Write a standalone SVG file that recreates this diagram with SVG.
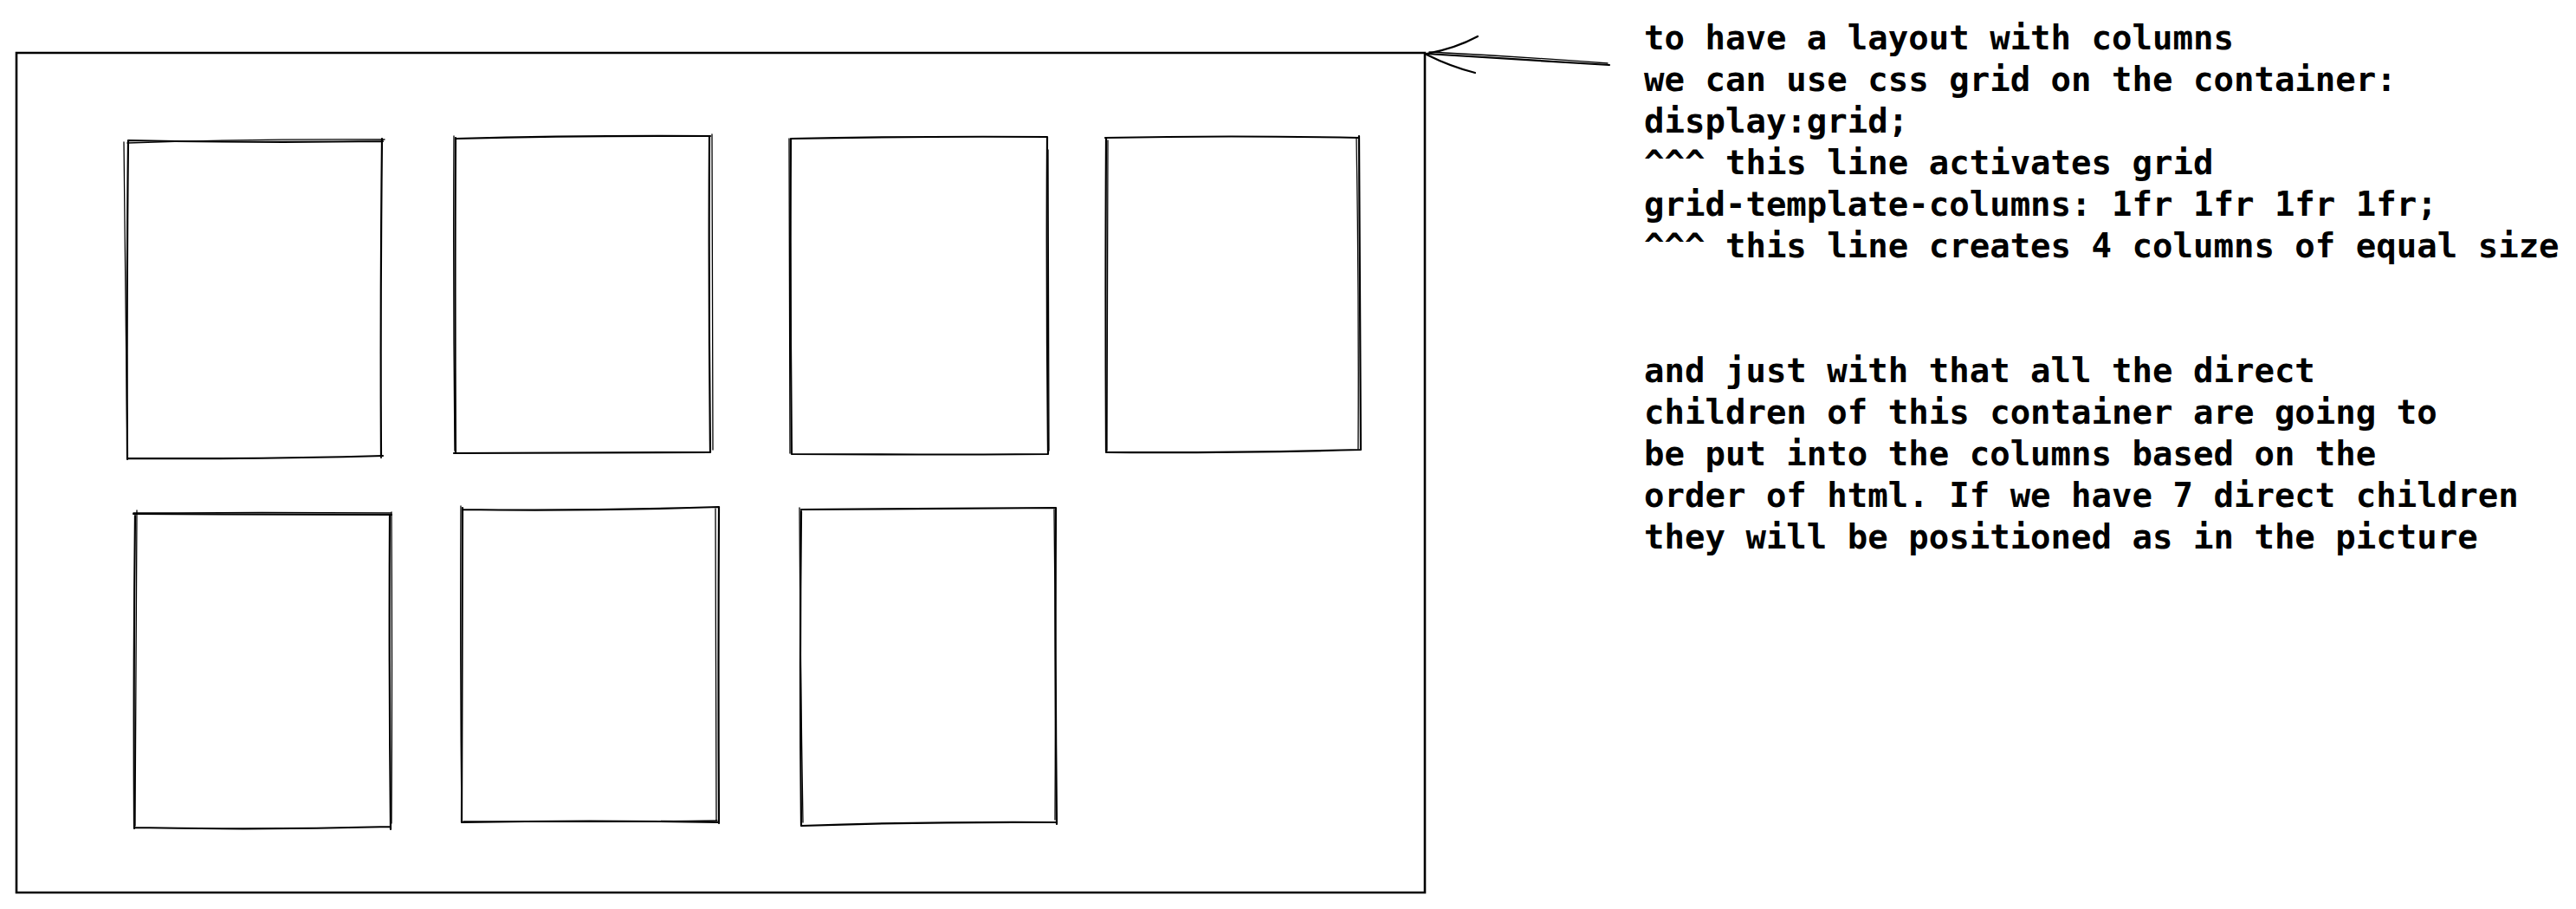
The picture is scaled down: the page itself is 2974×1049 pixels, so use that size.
<svg xmlns="http://www.w3.org/2000/svg" width="2974" height="1049" viewBox="0 0 2974 1049">
<style>
.s{fill:none;stroke:#000;stroke-width:2.2;stroke-linecap:round;stroke-linejoin:round}
.t{stroke-width:1.3}
.c{fill:none;stroke:#000;stroke-width:2.6;stroke-linecap:round}
.txt{font-family:"DejaVu Sans Mono","Liberation Mono",monospace;font-size:39px;font-weight:bold;fill:#000}
</style>
<rect width="2974" height="1049" fill="#fff"/>
<g id="container">
<path class="c" d="M19 61 L1645 61 L1645 1030 L19 1030 Z"/>
</g>
<g id="box1">
<path class="s" d="M148 162 Q300 165 442 163 M441 160 Q439 350 440 528 M442 526 Q300 530 147 529 M147 530 Q146 350 148 162"/>
<path class="s t" d="M143 164 Q145 350 147 527 M147 165 Q300 160 444 161"/>
</g>
<g id="box2">
<path class="s" d="M526 160 Q670 156 820 157 M819 157 Q818 340 820 522 M820 522 Q670 523 524 523 M526 523 Q525 340 526 159"/>
<path class="s t" d="M524 157 Q523 340 525 520 M822 155 Q823 340 823 519"/>
</g>
<g id="box3">
<path class="s" d="M913 160 Q1060 157 1209 158 M1209 158 Q1208 340 1210 524 M1210 524 Q1060 525 914 524 M914 524 Q912 340 913 160"/>
<path class="s t" d="M911 160 Q911 340 912 523 M1210 173 Q1211 340 1211 520"/>
</g>
<g id="box4">
<path class="s" d="M1276 159 Q1420 156 1569 159 M1569 157 Q1570 340 1571 519 M1571 519 Q1420 523 1277 522 M1277 521 Q1276 340 1277 160"/>
<path class="s t" d="M1279 162 Q1278 340 1278 520 M1566 160 Q1569 340 1568 518"/>
</g>
<g id="box5">
<path class="s" d="M154 593 Q300 594 452 594 M450 594 Q449 770 451 957 M451 954 Q300 958 156 955 M155 956 Q154 770 156 593"/>
<path class="s t" d="M158 589 Q157 770 156 953 M452 591 Q453 770 452 950 M154 592 Q300 591 452 592"/>
</g>
<g id="box6">
<path class="s" d="M534 588 Q680 590 830 585 M830 585 Q829 770 830 950 M829 949 Q680 946 533 949 M533 949 Q533 770 534 586"/>
<path class="s t" d="M532 584 Q531 770 533 946 M826 587 Q827 770 827 947 M535 948 Q680 949 828 947"/>
</g>
<g id="box7">
<path class="s" d="M925 588 Q1070 587 1219 586 M1219 586 Q1218 770 1220 951 M1219 949 Q1070 948 925 953 M925 953 Q923 770 925 590"/>
<path class="s t" d="M923 586 Q924 770 927 949 M1217 588 Q1219 770 1218 946"/>
</g>
<g id="connectors">
<path class="s" d="M1858 75 Q1750 68 1647 62"/>
<path class="s t" d="M1856 73 Q1750 65 1650 60"/>
<path class="s" d="M1647 62 Q1680 56 1706 42"/>
<path class="s" d="M1647 63 Q1675 77 1703 84"/>
</g>
<g id="note">
<text class="txt" x="1898" y="57" xml:space="preserve"><tspan x="1898" y="57">to have a layout with columns</tspan><tspan x="1898" y="105">we can use css grid on the container:</tspan><tspan x="1898" y="153">display:grid;</tspan><tspan x="1898" y="201">^^^ this line activates grid</tspan><tspan x="1898" y="249">grid-template-columns: 1fr 1fr 1fr 1fr;</tspan><tspan x="1898" y="297">^^^ this line creates 4 columns of equal size</tspan><tspan x="1898" y="441">and just with that all the direct</tspan><tspan x="1898" y="489">children of this container are going to</tspan><tspan x="1898" y="537">be put into the columns based on the</tspan><tspan x="1898" y="585">order of html. If we have 7 direct children</tspan><tspan x="1898" y="633">they will be positioned as in the picture</tspan></text>
</g>
</svg>
